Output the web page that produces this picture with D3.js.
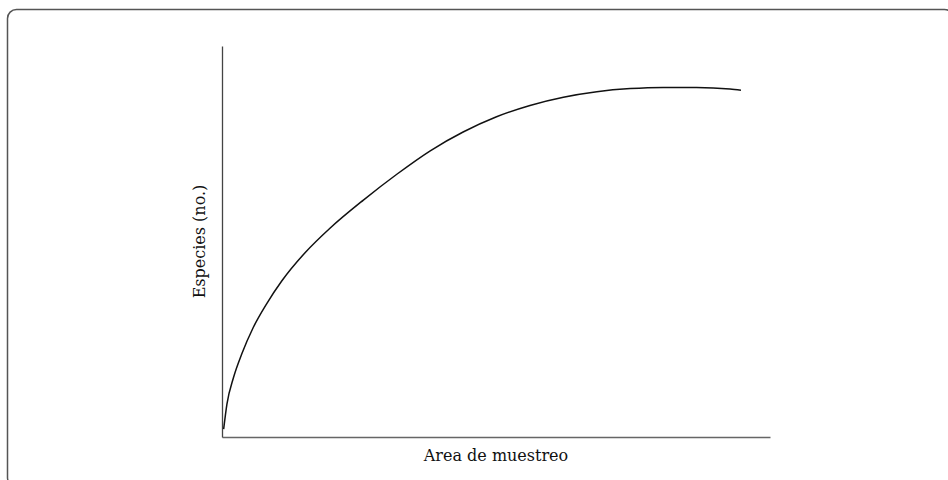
<!DOCTYPE html>
<html>
<head>
<meta charset="utf-8">
<script src="https://cdn.jsdelivr.net/npm/d3@7"></script>
<style>
  body { margin: 0; background: #fff; }
  svg { display: block; }
</style>
</head>
<body>
<div id="chart"></div>
<script>
// species-area curve (arbitrary 0-100 units)
var areaValues = [0.3, 0.9, 2.1, 3.6, 5.7, 8.2, 10.9, 15.2, 19.7, 25.8, 31.9, 38.0, 44.0, 50.1, 56.2, 62.3, 68.4, 74.5, 80.5, 86.6, 92.7, 94.7];
var speciesValues = [2.0, 8.4, 15.2, 21.2, 28.0, 34.2, 39.9, 47.2, 53.4, 60.6, 67.2, 73.2, 78.0, 81.9, 84.8, 86.9, 88.3, 89.1, 89.4, 89.4, 89.0, 88.7];
var xLabel = "Area de muestreo";
var yLabel = "Especies (no.)";

var svg_width = 948;
var svg_height = 480;
var margins = { top: 46, bottom: 43, left: 222, right: 178 };
var width = svg_width - margins.left - margins.right;
var height = svg_height - margins.top - margins.bottom;

var data = areaValues.map((d, i) => ({ area: d, species: speciesValues[i] }));

var svg = d3.select("#chart")
  .append("svg")
  .attr("width", svg_width)
  .attr("height", svg_height);

// rounded frame, runs just past the right and bottom edge
svg.append("rect")
  .attr("x", 7.5)
  .attr("y", 9.5)
  .attr("width", 946)
  .attr("height", 477)
  .attr("rx", 9)
  .style("fill", "none")
  .style("stroke", "#555")
  .style("stroke-width", 1.5);

var g = svg.append("g")
  .attr("transform", "translate(" + margins.left + "," + margins.top + ")");

var x = d3.scaleLinear().domain([0, 100]).range([0, width]);
var y = d3.scaleLinear().domain([0, 100]).range([height, 0]);

// axes with no ticks, just the lines
var xAxis = d3.axisBottom(x).tickValues([]).tickSizeOuter(0);
var yAxis = d3.axisLeft(y).tickValues([]).tickSizeOuter(0);

g.append("g")
  .attr("class", "x axis")
  .attr("transform", "translate(0," + height + ")")
  .call(xAxis)
  .select(".domain")
  .style("stroke", "#666")
  .style("stroke-width", 1.6);

g.append("g")
  .attr("class", "y axis")
  .call(yAxis)
  .select(".domain")
  .style("stroke", "#444")
  .style("stroke-width", 1.3);

var line = d3.line()
  .x(d => x(d.area))
  .y(d => y(d.species))
  .curve(d3.curveMonotoneX);

g.append("path")
  .datum(data)
  .attr("d", line)
  .style("fill", "none")
  .style("stroke", "#111")
  .style("stroke-width", 1.5);

// axis titles
g.append("text")
  .attr("x", width / 2)
  .attr("y", height + 24)
  .attr("text-anchor", "middle")
  .style("font-family", "DejaVu Serif")
  .style("font-size", "16px")
  .style("fill", "#111")
  .text(xLabel);

g.append("text")
  .attr("transform", "translate(-17," + (height / 2) + ") rotate(-90)")
  .attr("text-anchor", "middle")
  .style("font-family", "DejaVu Serif")
  .style("font-size", "16px")
  .style("fill", "#111")
  .text(yLabel);
</script>
</body>
</html>
